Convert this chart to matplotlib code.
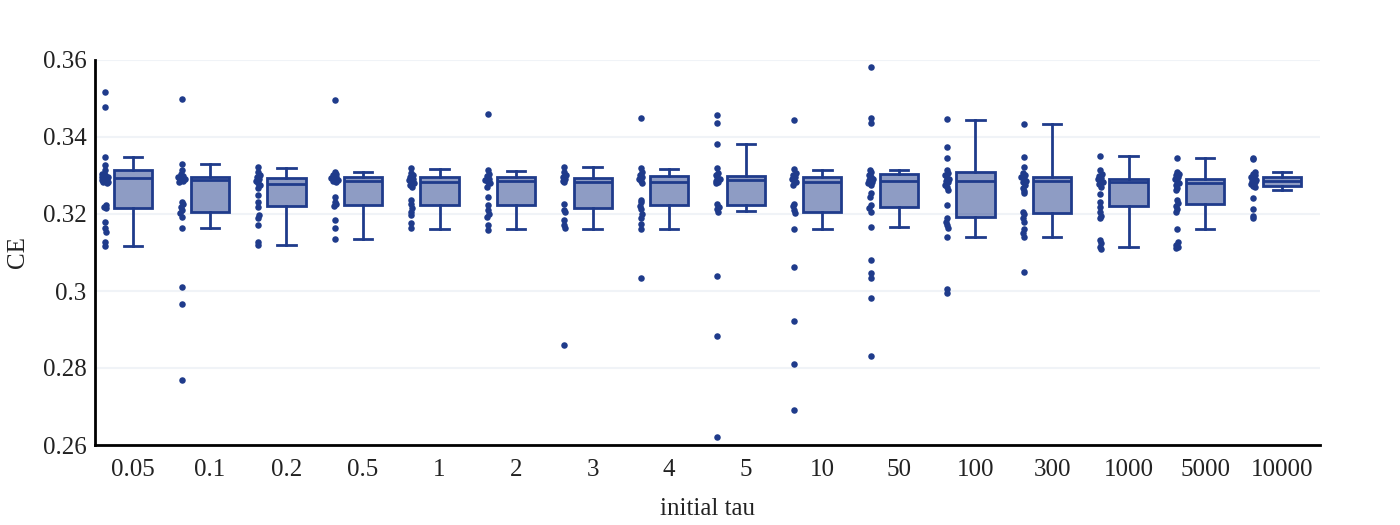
import numpy as np
import matplotlib
matplotlib.use('Agg')
import matplotlib.pyplot as plt
from matplotlib.ticker import FuncFormatter

plt.rcParams['font.family'] = ['Liberation Serif', 'DejaVu Serif']

#kategorie
labels = ['0.05', '0.1', '0.2', '0.5', '1', '2', '3', '4', '5', '10',
          '50', '100', '300', '1000', '5000', '10000']

#body (CE jednotlivych behu)
g_005 = [0.3518, 0.3477, 0.3347, 0.3327, 0.3314, 0.3305, 0.3298, 0.3295, 0.3292, 0.3290,
         0.3288, 0.3286, 0.3284, 0.3282, 0.3280, 0.3296, 0.3300, 0.3223, 0.3218, 0.3215,
         0.3180, 0.3164, 0.3154, 0.3126, 0.3117]
g_01 = [0.3499, 0.3330, 0.3315, 0.3305, 0.3298, 0.3295, 0.3292, 0.3290, 0.3288, 0.3286,
        0.3284, 0.3232, 0.3225, 0.3218, 0.3210, 0.3203, 0.3193, 0.3163, 0.3010, 0.2966, 0.2769]
g_02 = [0.3321, 0.3310, 0.3302, 0.3295, 0.3290, 0.3285, 0.3280, 0.3275, 0.3267, 0.3249,
        0.3232, 0.3219, 0.3197, 0.3189, 0.3171, 0.3128, 0.3120]
g_05 = [0.3495, 0.3310, 0.3305, 0.3300, 0.3296, 0.3293, 0.3290, 0.3288, 0.3286, 0.3284,
        0.3245, 0.3232, 0.3226, 0.3220, 0.3184, 0.3163, 0.3135]
g_1 = [0.3319, 0.3306, 0.3300, 0.3296, 0.3292, 0.3288, 0.3285, 0.3280, 0.3275, 0.3271,
       0.3236, 0.3225, 0.3215, 0.3205, 0.3197, 0.3176, 0.3163]
g_2 = [0.3459, 0.3315, 0.3305, 0.3298, 0.3292, 0.3288, 0.3284, 0.3280, 0.3271, 0.3243,
       0.3223, 0.3210, 0.3200, 0.3193, 0.3171, 0.3158]
g_3 = [0.3321, 0.3310, 0.3300, 0.3295, 0.3290, 0.3287, 0.3284, 0.3226, 0.3210, 0.3204,
       0.3184, 0.3172, 0.3163, 0.2861]
g_4 = [0.3450, 0.3319, 0.3310, 0.3302, 0.3296, 0.3290, 0.3285, 0.3280, 0.3236, 0.3230,
       0.3222, 0.3212, 0.3200, 0.3190, 0.3175, 0.3160, 0.3033]
g_5 = [0.3457, 0.3437, 0.3382, 0.3319, 0.3306, 0.3300, 0.3295, 0.3290, 0.3286, 0.3282,
       0.3280, 0.3226, 0.3218, 0.3212, 0.3206, 0.3039, 0.2883, 0.2622]
g_10 = [0.3445, 0.3317, 0.3306, 0.3300, 0.3295, 0.3290, 0.3286, 0.3282, 0.3276, 0.3226,
        0.3220, 0.3210, 0.3202, 0.3161, 0.3063, 0.2921, 0.2810, 0.2690]
g_50 = [0.3581, 0.3449, 0.3436, 0.3315, 0.3308, 0.3302, 0.3296, 0.3292, 0.3288, 0.3284,
        0.3280, 0.3276, 0.3254, 0.3245, 0.3223, 0.3215, 0.3206, 0.3167, 0.3081, 0.3048,
        0.3033, 0.2981, 0.2831]
g_100 = [0.3446, 0.3373, 0.3345, 0.3314, 0.3306, 0.3300, 0.3294, 0.3290, 0.3286, 0.3282,
         0.3276, 0.3270, 0.3262, 0.3223, 0.3189, 0.3180, 0.3172, 0.3163, 0.3141, 0.3005, 0.2994]
g_300 = [0.3435, 0.3347, 0.3321, 0.3306, 0.3300, 0.3295, 0.3290, 0.3286, 0.3282, 0.3276,
         0.3268, 0.3260, 0.3254, 0.3206, 0.3200, 0.3190, 0.3180, 0.3160, 0.3150, 0.3141, 0.3050]
g_1000 = [0.3351, 0.3313, 0.3303, 0.3298, 0.3294, 0.3290, 0.3286, 0.3282, 0.3278, 0.3271,
          0.3251, 0.3232, 0.3219, 0.3206, 0.3195, 0.3189, 0.3133, 0.3125, 0.3115, 0.3110]
g_5000 = [0.3345, 0.3310, 0.3305, 0.3300, 0.3295, 0.3290, 0.3285, 0.3280, 0.3275, 0.3268,
          0.3262, 0.3236, 0.3228, 0.3220, 0.3212, 0.3206, 0.3161, 0.3126, 0.3120, 0.3115, 0.3111]
g_10000 = [0.3345, 0.3344, 0.3310, 0.3305, 0.3300, 0.3296, 0.3292, 0.3288, 0.3285, 0.3282,
           0.3278, 0.3274, 0.3271, 0.3242, 0.3212, 0.3195, 0.3190]
groups = [g_005, g_01, g_02, g_05, g_1, g_2, g_3, g_4, g_5, g_10,
          g_50, g_100, g_300, g_1000, g_5000, g_10000]

#statistiky boxu
q1 = [0.3215, 0.3204, 0.3221, 0.3223, 0.3223, 0.3223, 0.3215, 0.3223,
      0.3223, 0.3206, 0.3219, 0.3191, 0.3202, 0.3221, 0.3225, 0.3274]
med = [0.3293, 0.3288, 0.3277, 0.3286, 0.3284, 0.3286, 0.3282, 0.3282,
       0.3288, 0.3284, 0.3286, 0.3287, 0.3286, 0.3284, 0.3280, 0.3286]
q3 = [0.3314, 0.3295, 0.3293, 0.3296, 0.3297, 0.3297, 0.3294, 0.3299,
      0.3299, 0.3297, 0.3304, 0.3308, 0.3297, 0.3292, 0.3291, 0.3297]
w_lo = [0.3117, 0.3163, 0.3120, 0.3135, 0.3161, 0.3161, 0.3161, 0.3160,
        0.3208, 0.3161, 0.3166, 0.3141, 0.3141, 0.3115, 0.3161, 0.3262]
w_hi = [0.3347, 0.3329, 0.3320, 0.3308, 0.3318, 0.3312, 0.3321, 0.3316,
        0.3382, 0.3314, 0.3313, 0.3445, 0.3435, 0.3351, 0.3345, 0.3309]

col = '#1f3b8b'

fig = plt.figure(figsize=(14, 5.25), dpi=100)
ax = fig.add_axes([95/1400, 80/525, 1225/1400, 385/525])

stats = []
for i in range(len(labels)):
    stats.append(dict(q1=q1[i], med=med[i], q3=q3[i], whislo=w_lo[i],
                      whishi=w_hi[i], fliers=[], label=labels[i]))

pos = np.arange(len(labels))
ax.bxp(stats, positions=pos, widths=0.5, capwidths=0.24, patch_artist=True,
       showfliers=False,
       boxprops=dict(facecolor=(31/255, 59/255, 139/255, 0.5), edgecolor=col, linewidth=2),
       medianprops=dict(color=col, linewidth=2),
       whiskerprops=dict(color=col, linewidth=2),
       capprops=dict(color=col, linewidth=2), zorder=3)

#body vlevo od boxu, jitter podle hustoty
for i, g in enumerate(groups):
    v = np.array(g)
    n = len(v)
    xs = []
    for k in range(n):
        dens = np.sum(np.abs(v - v[k]) < 0.0012) - 1
        w = min(1.0, dens / 6.0) * 0.045
        patt = ((k * 7) % 5 - 2) / 2.0
        xs.append(pos[i] - 0.37 + w * patt)
    ax.scatter(xs, v, s=22, color=col, zorder=4, linewidths=0)

ax.set_xlim(-0.5, len(labels) - 0.5)
ax.set_ylim(0.26, 0.36)
ax.set_yticks([0.26, 0.28, 0.30, 0.32, 0.34, 0.36])
ax.yaxis.set_major_formatter(FuncFormatter(lambda v, p: '%g' % round(v, 2)))
ax.set_xticks(pos)
ax.set_xticklabels(labels)
ax.tick_params(axis='both', length=0, labelsize=18, colors='#222222')
ax.tick_params(axis='x', pad=10)
ax.tick_params(axis='y', pad=6)
ax.grid(axis='y', color='#f0f3f7', linewidth=1.5, zorder=0)
ax.set_axisbelow(True)

for s in ['top', 'right']:
    ax.spines[s].set_visible(False)
for s in ['left', 'bottom']:
    ax.spines[s].set_linewidth(2)
    ax.spines[s].set_color('black')

ax.set_xlabel('initial tau', fontsize=18, color='#222222', labelpad=12)
ax.set_ylabel('CE', fontsize=18, color='#222222', labelpad=10)

fig.savefig('out.png', dpi=100)
